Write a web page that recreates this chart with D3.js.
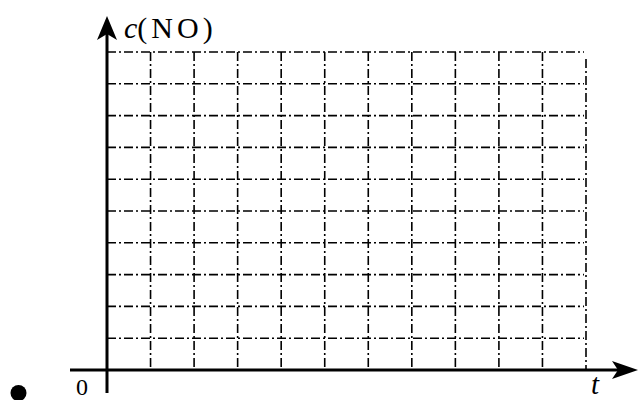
<!DOCTYPE html>
<html>
<head>
<meta charset="utf-8">
<script src="https://cdn.jsdelivr.net/npm/d3@7"></script>
<style>
  body { margin: 0; background: #fff; }
  svg { display: block; }
</style>
</head>
<body>
<div id="chart"></div>
<script>
// grid positions in chart units
const xGrid = [1, 2, 3, 4, 5, 6, 7, 8, 9, 10, 11];
const yGrid = [1, 2, 3, 4, 5, 6, 7, 8, 9, 10];
const xLabel = "t";
const yLabelItalic = "c";
const yLabelRest = ["(", "N", "O", ")"];
const originLabel = "0";

const width = 638, height = 400;

const svg = d3.select("#chart").append("svg")
    .attr("width", width)
    .attr("height", height)
    .style("background-color", "#fff");

const x = d3.scaleLinear().domain([0, 11]).range([107, 586]);
const y = d3.scaleLinear().domain([0, 10]).range([370, 52]);

const dash = "9,3,2,3";

// horizontal grid lines
svg.append("g").selectAll("line")
    .data(yGrid)
    .enter()
    .append("line")
    .attr("x1", x(0))
    .attr("x2", x(11) - 2)
    .attr("y1", d => y(d))
    .attr("y2", d => y(d))
    .attr("stroke", "#000")
    .attr("stroke-width", 1.6)
    .attr("stroke-dasharray", dash);

// vertical grid lines
svg.append("g").selectAll("line")
    .data(xGrid)
    .enter()
    .append("line")
    .attr("x1", d => x(d))
    .attr("x2", d => x(d))
    .attr("y1", d => d === 11 ? y(10) + 7 : y(10))
    .attr("y2", y(0))
    .attr("stroke", "#000")
    .attr("stroke-width", 1.6)
    .attr("stroke-dasharray", dash);

// axes
svg.append("line")
    .attr("x1", 70).attr("x2", 622)
    .attr("y1", y(0)).attr("y2", y(0))
    .attr("stroke", "#000").attr("stroke-width", 3);
svg.append("line")
    .attr("x1", x(0)).attr("x2", x(0))
    .attr("y1", 393).attr("y2", 32)
    .attr("stroke", "#000").attr("stroke-width", 3);

// arrow heads
const ax = x(0), ay = y(0);
svg.append("path")
    .attr("d", `M638,${ay} L612,${ay - 9} L618,${ay} L612,${ay + 9} Z`)
    .attr("fill", "#000");
svg.append("path")
    .attr("d", `M${ax},16 L${ax - 10},40 L${ax},34 L${ax + 10},40 Z`)
    .attr("fill", "#000");

// labels
const serif = "Liberation Serif, Times New Roman, serif";
const yl = svg.append("text")
    .attr("x", 124)
    .attr("y", 38)
    .style("font-family", serif)
    .style("font-size", "30px");
yl.append("tspan").style("font-style", "italic").text(yLabelItalic);
yl.append("tspan").attr("letter-spacing", "4px").text(yLabelRest.join(""));

svg.append("text")
    .attr("x", 76)
    .attr("y", 395)
    .style("font-family", serif)
    .style("font-size", "24px")
    .text(originLabel);

svg.append("text")
    .attr("x", 591)
    .attr("y", 394)
    .style("font-family", serif)
    .style("font-style", "italic")
    .style("font-size", "29px")
    .text(xLabel);

// bullet at bottom left
svg.append("circle")
    .attr("cx", 18.5)
    .attr("cy", 393)
    .attr("r", 8)
    .attr("fill", "#000");
</script>
</body>
</html>
